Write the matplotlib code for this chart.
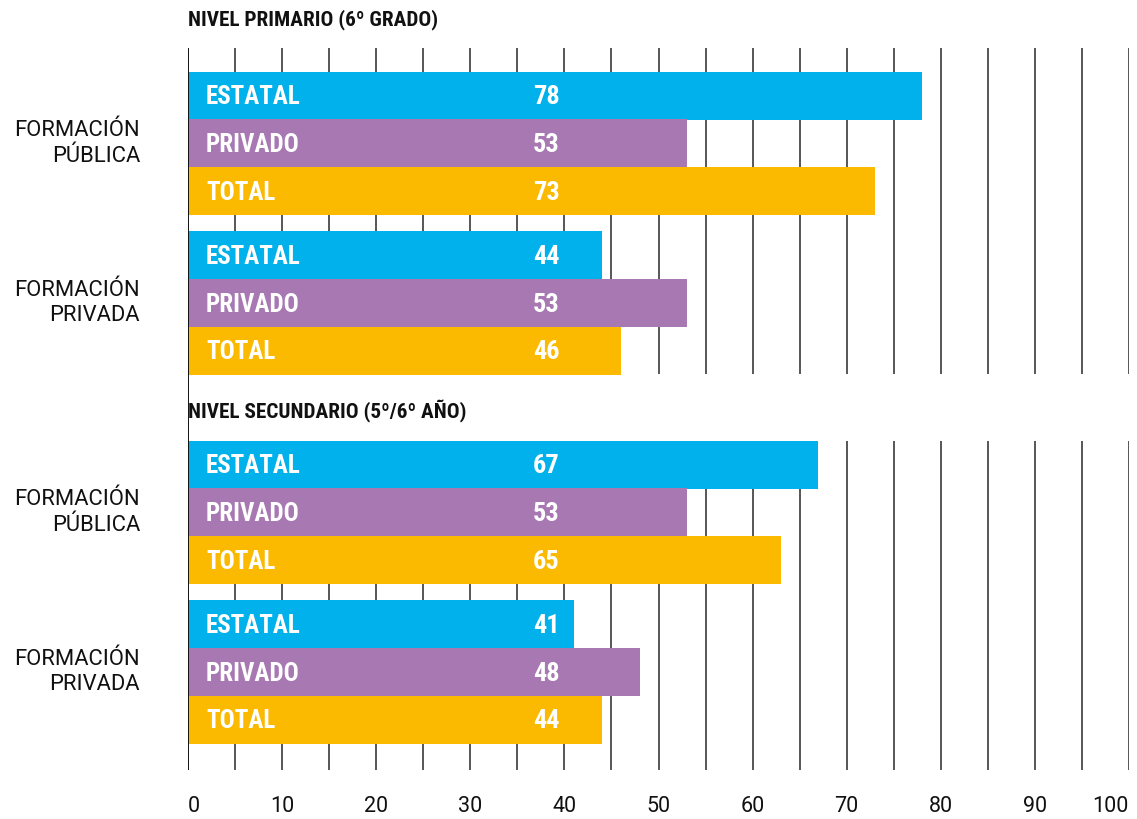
import matplotlib
matplotlib.use("Agg")
import matplotlib.pyplot as plt
from matplotlib import font_manager as fm

# ---- data ----
section_titles = ["NIVEL PRIMARIO (6º GRADO)", "NIVEL SECUNDARIO (5º/6º AÑO)"]
group_labels = ["FORMACIÓN\nPÚBLICA", "FORMACIÓN\nPRIVADA"]
series_names = ["ESTATAL", "PRIVADO", "TOTAL"]
# bar lengths as drawn, per section -> group -> series
primario_publica = [78, 53, 73]
primario_privada = [44, 53, 46]
secundario_publica = [67, 53, 63]
secundario_privada = [41, 48, 44]
# printed value labels
primario_publica_lbl = ["78", "53", "73"]
primario_privada_lbl = ["44", "53", "46"]
secundario_publica_lbl = ["67", "53", "65"]
secundario_privada_lbl = ["41", "48", "44"]
x_ticks = [0, 10, 20, 30, 40, 50, 60, 70, 80, 90, 100]

colors = ["#00B1EB", "#A878B2", "#FBB900"]

def pick(names):
    avail = {f.name for f in fm.fontManager.ttflist}
    for n in names:
        if n in avail:
            return n
    return "DejaVu Sans"

cond = pick(["Roboto Condensed", "Liberation Sans Narrow", "Roboto", "DejaVu Sans"])
reg = pick(["Roboto", "DejaVu Sans"])

W, H = 1137, 819
fig = plt.figure(figsize=(W / 100, H / 100), dpi=100)
ax = fig.add_axes([188 / W, 0, 941 / W, 1])
ax.set_xlim(0, 100)
ax.set_ylim(H, 0)
ax.axis("off")

row_h = 47.7
group_step = 159.5
section_tops = [72, 441]
grid_tops = [48, 441]
sections = [
    [(primario_publica, primario_publica_lbl), (primario_privada, primario_privada_lbl)],
    [(secundario_publica, secundario_publica_lbl), (secundario_privada, secundario_privada_lbl)],
]
title_y = [20, 411]
grid_bottom = [374, 770]

for s, groups in enumerate(sections):
    # gridlines
    for v in range(5, 101, 5):
        ax.plot([v, v], [grid_tops[s], grid_bottom[s]], color="#3a3a3a", lw=1.2,
                zorder=1, solid_capstyle="butt")
    ax.text(0, title_y[s], section_titles[s], fontfamily=cond, fontweight="bold",
            fontsize=15.3, va="center", ha="left", color="#111111")
    for g, (vals, lbls) in enumerate(groups):
        gtop = section_tops[s] + g * group_step
        for i, (v, l) in enumerate(zip(vals, lbls)):
            yc = gtop + (i + 0.5) * row_h
            ax.barh(yc, v, height=row_h + 0.6, left=0, color=colors[i], zorder=2)
            ax.text(1.9, yc + 1.5, series_names[i], fontfamily=cond, fontweight="bold",
                    fontsize=18, color="white", va="center", ha="left", zorder=3)
            ax.text(38.1, yc + 1.5, l, fontfamily=cond, fontweight="bold",
                    fontsize=19, color="white", va="center", ha="center", zorder=3)
        yc_mid = gtop + 1.5 * row_h
        ax.text(-5.1, yc_mid, group_labels[g], fontfamily=reg, fontsize=15.8,
                color="#111111", va="center", ha="right", multialignment="right",
                linespacing=1.3, clip_on=False)

# left axis line
ax.plot([0, 0], [48, 770], color="#111111", lw=1.4, zorder=4, solid_capstyle="butt")

# x tick labels
for t in x_ticks:
    ha = "left" if t == 0 else ("right" if t == 100 else "center")
    ax.text(t, 806, str(t), fontfamily=reg, fontsize=15.5, color="#111111",
            va="center", ha=ha)

fig.savefig("out.png", dpi=100)
